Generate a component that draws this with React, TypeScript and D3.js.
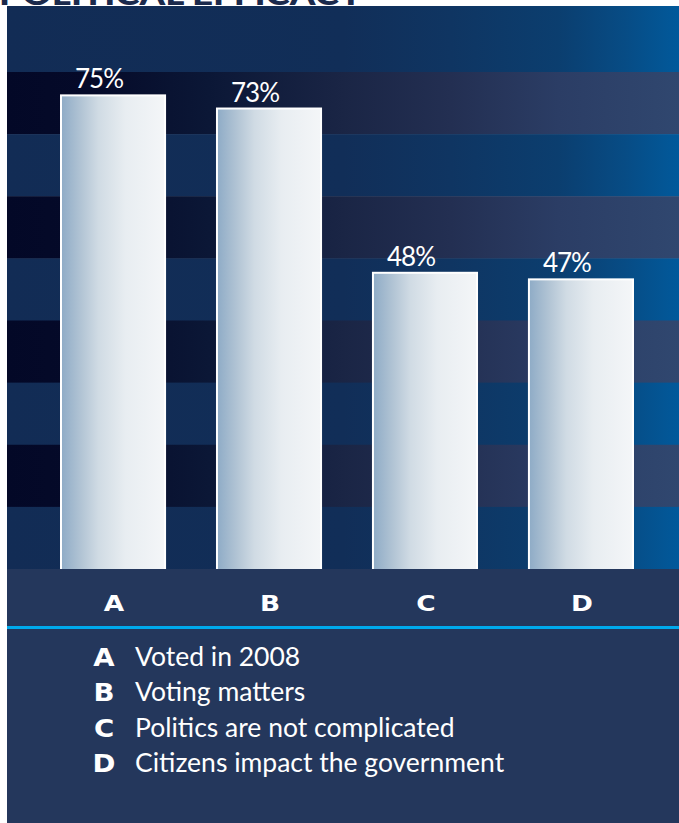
import React from 'react';
import * as d3 from 'd3';

const title = 'POLITICAL EFFICACY';
const categories = ['A', 'B', 'C', 'D'];
const values = [75, 73, 48, 47];
const valueLabels = ['75%', '73%', '48%', '47%'];
const legendLabels = [
  'Voted in 2008',
  'Voting matters',
  'Politics are not complicated',
  'Citizens impact the government',
];
const stripeIndex = [0, 1, 2, 3, 4, 5, 6, 7];

const W = 679;
const H = 823;
const panelLeft = 7;
const panelTop = 6;
const headerBottom = 72;
const plotBottom = 569;
const bandBottom = 626;

export default function App() {
  const x = d3.scaleBand<string>().domain(categories).range([60, 634]).paddingInner(0.32).paddingOuter(0);
  const y = d3.scaleLinear().domain([0, 100]).range([587.2, -69.9]);
  const stripe = d3.scaleBand<number>().domain(stripeIndex).range([headerBottom, plotBottom]);
  const bw = x.bandwidth();
  const legendY = d3.scaleLinear().domain([0, 3]).range([666, 772]);

  return (
    <div style={{ position: 'absolute', left: 0, top: 0 }}>
      <svg width={W} height={H} style={{ display: 'block' }}>
        <defs>
          <linearGradient id="lightG" x1="0" x2="1" y1="0" y2="0">
            <stop offset="0" stopColor="#122c55" />
            <stop offset="0.5" stopColor="#112e58" />
            <stop offset="0.66" stopColor="#0f3562" />
            <stop offset="0.82" stopColor="#0b3e6f" />
            <stop offset="0.92" stopColor="#074c85" />
            <stop offset="1" stopColor="#01599b" />
          </linearGradient>
          <linearGradient id="darkG" x1="0" x2="1" y1="0" y2="0">
            <stop offset="0" stopColor="#030827" />
            <stop offset="0.12" stopColor="#050a29" />
            <stop offset="0.3" stopColor="#0b1736" />
            <stop offset="0.5" stopColor="#1a2545" />
            <stop offset="0.66" stopColor="#232f52" />
            <stop offset="0.82" stopColor="#2b3d65" />
            <stop offset="1" stopColor="#30476f" />
          </linearGradient>
          <linearGradient id="barG" x1="0" x2="1" y1="0" y2="0">
            <stop offset="0" stopColor="#8eabc6" />
            <stop offset="0.2" stopColor="#b3c5d5" />
            <stop offset="0.36" stopColor="#d0dbe4" />
            <stop offset="0.62" stopColor="#e8edf1" />
            <stop offset="1" stopColor="#f4f6f8" />
          </linearGradient>
        </defs>

        <rect x={0} y={0} width={W} height={H} fill="#ffffff" />
        <text
          x={-1}
          y={5}
          fontFamily="Lato, sans-serif"
          fontWeight={900}
          fontSize={30}
          fill="#1b2a4c"
          textLength={364}
          lengthAdjust="spacingAndGlyphs"
        >
          {title}
        </text>

        <rect x={panelLeft} y={panelTop} width={W - panelLeft} height={headerBottom - panelTop} fill="url(#lightG)" />
        {stripeIndex.map((i) => (
          <rect
            key={i}
            x={panelLeft}
            y={stripe(i)}
            width={W - panelLeft}
            height={stripe.bandwidth() + 0.5}
            fill={i % 2 === 0 ? 'url(#darkG)' : 'url(#lightG)'}
          />
        ))}

        {categories.map((c, i) => (
          <rect
            key={c}
            x={(x(c) as number) + 1}
            y={y(values[i]) + 1}
            width={bw - 2}
            height={plotBottom - y(values[i]) + 4}
            fill="url(#barG)"
            stroke="#ffffff"
            strokeWidth={2}
          />
        ))}

        {categories.map((c, i) => (
          <text
            key={'v' + c}
            x={(x(c) as number) + bw / 2 - 14}
            y={y(values[i]) - 6}
            textAnchor="middle"
            fontFamily="Lato, sans-serif"
            fontSize={26}
            letterSpacing={-1}
            fill="#ffffff"
          >
            {valueLabels[i]}
          </text>
        ))}

        <rect x={panelLeft} y={plotBottom} width={W - panelLeft} height={H - plotBottom} fill="#24375c" />
        <rect x={panelLeft} y={bandBottom} width={W - panelLeft} height={3} fill="#00a9ec" />

        {categories.map((c) => (
          <text
            key={'c' + c}
            transform={`translate(${(x(c) as number) + bw / 2 + 1},611) scale(1.2,1)`}
            textAnchor="middle"
            fontFamily="DejaVu Sans, sans-serif"
            fontWeight="bold"
            fontSize={22}
            fill="#ffffff"
          >
            {c}
          </text>
        ))}

        {categories.map((c, i) => (
          <g key={'l' + c}>
            <text
              transform={`translate(104,${legendY(i)}) scale(1.15,1)`}
              textAnchor="middle"
              fontFamily="DejaVu Sans, sans-serif"
              fontWeight="bold"
              fontSize={24}
              fill="#ffffff"
            >
              {c}
            </text>
            <text x={135} y={legendY(i)} fontFamily="Lato, sans-serif" fontSize={26.5} fill="#ffffff">
              {legendLabels[i]}
            </text>
          </g>
        ))}
      </svg>
    </div>
  );
}
